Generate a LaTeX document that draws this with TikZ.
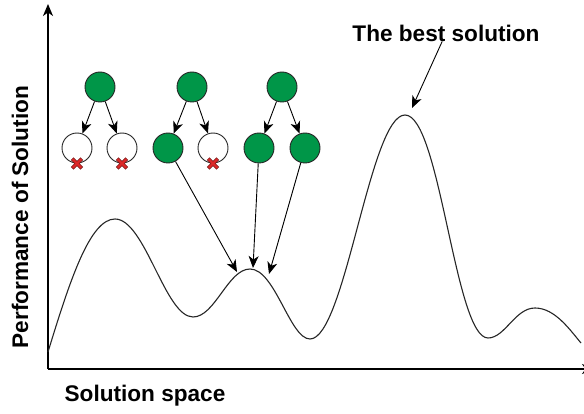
\documentclass[tikz,border=0pt]{standalone}
\usepackage{fontspec}
\setmainfont{Liberation Sans}
\usetikzlibrary{arrows.meta}
\definecolor{leafgreen}{RGB}{0,150,72}
\definecolor{xred}{RGB}{220,40,40}
\definecolor{xdark}{RGB}{120,20,20}
\begin{document}
\begin{tikzpicture}[x=1pt,y=-1pt,
  lbl/.style={font=\fontsize{22.6}{27}\selectfont\bfseries, inner sep=0pt},
  full/.style={circle, draw=black!85, fill=leafgreen, line width=0.9pt, minimum size=30pt, inner sep=0pt},
  empty/.style={circle, draw=black!85, fill=white, line width=0.9pt, minimum size=30pt, inner sep=0pt},
  arr/.style={line width=0.9pt, -{Stealth[length=12pt,width=10pt,inset=3.5pt]}},
  axis/.style={line width=1.3pt, -{Stealth[length=12pt,width=10pt,inset=3.5pt]}},
  crossdark/.style={line width=3.8pt, draw=xdark},
  crossred/.style={line width=2.2pt, draw=xred}
]
\useasboundingbox (0,0) rectangle (584,414);
% axes
\coordinate (o) at (48,369);
\coordinate (ytop) at (48,4);
\coordinate (xend) at (594,369);
\draw[axis] (o) -- (ytop);
\draw[axis] (o) -- (xend);
% curve
\draw[line width=1.1pt, black!85]
  (48,352) .. controls (70,280) and (90,219) .. (115,219)
  .. controls (145,219) and (165,317) .. (193,317)
  .. controls (215,317) and (228,269) .. (250,269)
  .. controls (275,269) and (290,339) .. (310,339)
  .. controls (345,339) and (370,115) .. (405,115)
  .. controls (440,115) and (455,338) .. (488,338)
  .. controls (505,338) and (515,308) .. (535,308)
  .. controls (555,308) and (570,330) .. (581,343);
% labels
\node[lbl] (best) at (446,33) {The best solution};
\node[lbl] (xlab) at (145,396) {Solution space};
\node[lbl, rotate=90] (ylab) at (20,217) {Performance of Solution};
% trees
\node[full] (r1) at (100,87) {};
\node[empty] (a) at (77,148) {};
\node[empty] (b) at (122,148) {};
\node[full] (r2) at (192,87) {};
\node[full] (c) at (168,148) {};
\node[empty] (d) at (213,148) {};
\node[full] (r3) at (282,87) {};
\node[full] (e) at (259,148) {};
\node[full] (f) at (305,148) {};
\foreach \p/\q in {r1/a,r1/b,r2/c,r2/d,r3/e,r3/f}
  \draw[arr] (\p) -- (\q);
% red crosses
\foreach \n in {a,b,d}{
  \draw[crossdark] ([shift={(-4.8,-4.8)}]\n.south) -- ([shift={(4.8,4.8)}]\n.south);
  \draw[crossdark] ([shift={(-4.8,4.8)}]\n.south) -- ([shift={(4.8,-4.8)}]\n.south);
  \draw[crossred] ([shift={(-4.4,-4.4)}]\n.south) -- ([shift={(4.4,4.4)}]\n.south);
  \draw[crossred] ([shift={(-4.4,4.4)}]\n.south) -- ([shift={(4.4,-4.4)}]\n.south);
}
% arrows to local peak
\coordinate (pa) at (237,272);
\coordinate (pb) at (253,268);
\coordinate (pc) at (269,274);
\draw[arr] (c) -- (pa);
\draw[arr] (e) -- (pb);
\draw[arr] (f) -- (pc);
% best solution arrow
\coordinate (bt) at (412,108);
\draw[arr] (best) -- (bt);
\end{tikzpicture}
\end{document}
